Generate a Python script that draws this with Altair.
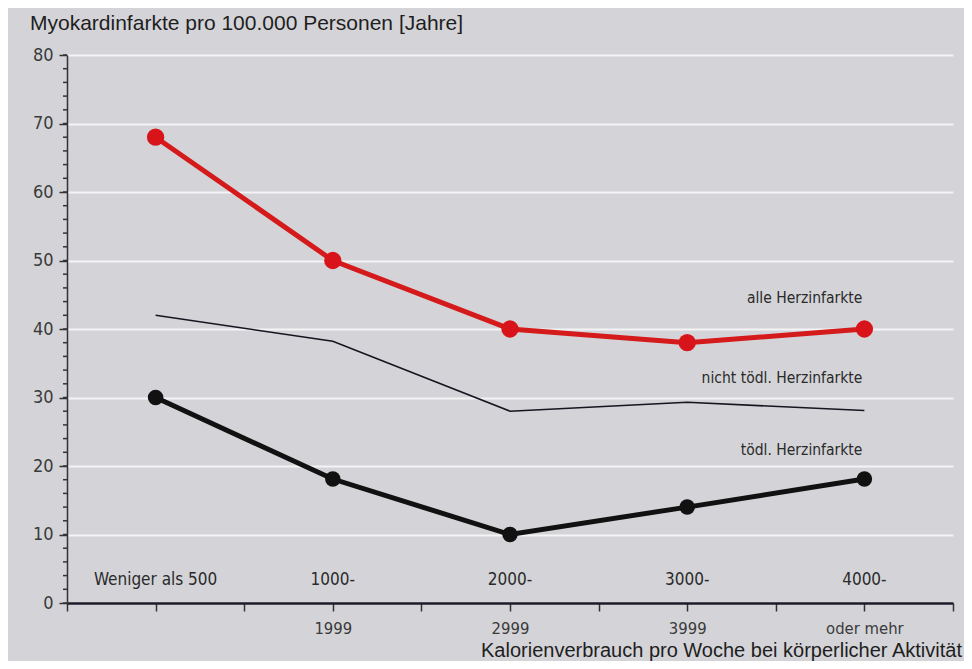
import altair as alt
import pandas as pd

categories = [0, 1, 2, 3, 4]
top_labels = ["Weniger als 500", "1000-", "2000-", "3000-", "4000-"]
bottom_labels = ["", "1999", "2999", "3999", "oder mehr"]

alle = [68, 50, 40, 38, 40]
nicht_toedl = [42, 38.2, 28, 29.3, 28.1]
toedl = [30, 18.1, 10, 14, 18.1]

series_names = ["alle Herzinfarkte", "nicht tödl. Herzinfarkte", "tödl. Herzinfarkte"]
series_label_y = [44.5, 32.8, 22.3]

y_major = list(range(0, 81, 10))
y_minor = list(range(0, 81, 2))

y_title = "Myokardinfarkte pro 100.000 Personen [Jahre]"
x_title = "Kalorienverbrauch pro Woche bei körperlicher Aktivität"

FONT = "'Liberation Sans Narrow', 'DejaVu Sans Condensed', 'Roboto Condensed', Roboto, sans-serif"
TFONT = "'Liberation Sans', Arial, sans-serif"
BG = "#d4d4d8"
W, H = 886, 548

df_alle = pd.DataFrame({"x": categories, "y": alle})
df_nicht = pd.DataFrame({"x": categories, "y": nicht_toedl})
df_toedl = pd.DataFrame({"x": categories, "y": toedl})
df_top = pd.DataFrame({"x": categories, "label": top_labels, "y": [3.4] * 5})
df_series = pd.DataFrame({"x": [4.0] * 3, "y": series_label_y, "label": series_names})
df_minor = pd.DataFrame({"y": y_minor})

xscale = alt.Scale(domain=[-0.5, 4.5], nice=False, zero=False)
yscale = alt.Scale(domain=[0, 80], nice=False)

bottom_expr = ("datum.value == 1 ? '" + bottom_labels[1] + "' : datum.value == 2 ? '" + bottom_labels[2]
               + "' : datum.value == 3 ? '" + bottom_labels[3] + "' : datum.value == 4 ? '"
               + bottom_labels[4] + "' : ''")

x_tick_values = [i * 0.5 for i in range(-1, 10)]


def X():
    return alt.X("x:Q", scale=xscale)


def Y():
    return alt.Y("y:Q", scale=yscale)


axes_layer = alt.Chart(df_alle).mark_point(opacity=0).encode(
    x=alt.X("x:Q", scale=xscale, axis=alt.Axis(
        values=x_tick_values, labelExpr=bottom_expr, title=None, grid=False,
        domainColor="#1a1a2a", domainWidth=2.5, tickColor="#333333", tickWidth=1.5,
        tickSize=8, labelFont=FONT, labelFontSize=16.5, labelColor="#3a3a3a",
        labelPadding=9, labelFlush=False, labelOverlap=False)),
    y=alt.Y("y:Q", scale=yscale, axis=alt.Axis(
        values=y_major, title=None, grid=True, gridColor="#f4f4f6",
        gridWidth=2, domainColor="#333333", domainWidth=1.5, tickColor="#333333",
        tickWidth=1.5, tickSize=8, labelFont=FONT, labelFontSize=18,
        labelOverlap=False, labelColor="#3a3a3a", labelPadding=6)),
)

minor_ticks = alt.Chart(df_minor).mark_rule(color="#333333", strokeWidth=1.5).encode(
    y=Y(), x=alt.value(-4), x2=alt.value(0))

red_line = alt.Chart(df_alle).mark_line(color="#d41a1a", strokeWidth=5).encode(x=X(), y=Y())
red_pts = alt.Chart(df_alle).mark_circle(color="#d8141a", size=300, opacity=1).encode(x=X(), y=Y())

thin_line = alt.Chart(df_nicht).mark_line(color="#151520", strokeWidth=1.6).encode(x=X(), y=Y())

black_line = alt.Chart(df_toedl).mark_line(color="#111111", strokeWidth=5).encode(x=X(), y=Y())
black_pts = alt.Chart(df_toedl).mark_circle(color="#111111", size=240, opacity=1).encode(x=X(), y=Y())

top_text = alt.Chart(df_top).mark_text(font=FONT, fontSize=17, color="#2a2a2a",
                                       baseline="middle").encode(x=X(), y=Y(), text="label:N")

series_text = alt.Chart(df_series).mark_text(font=FONT, fontSize=15.5, color="#2a2a2a",
                                              align="right", baseline="middle", dx=-2).encode(
    x=X(), y=Y(), text="label:N")

title_df = pd.DataFrame({"t": [y_title]})
y_title_text = alt.Chart(title_df).mark_text(font=TFONT, fontSize=21, color="#1e1e1e",
                                             align="left", baseline="alphabetic").encode(
    x=alt.value(-37), y=alt.value(-25), text="t:N")

xtitle_df = pd.DataFrame({"t": [x_title]})
x_title_text = alt.Chart(xtitle_df).mark_text(font=TFONT, fontSize=20, color="#1e1e1e",
                                              align="right", baseline="alphabetic").encode(
    x=alt.value(W + 9), y=alt.value(H + 54), text="t:N")

chart = alt.layer(
    axes_layer, minor_ticks, thin_line, red_line, red_pts, black_line, black_pts,
    top_text, series_text, y_title_text, x_title_text
).properties(
    width=W, height=H,
    autosize=alt.AutoSizeParams(type="none"),
    padding={"left": 59, "top": 47, "right": 11, "bottom": 58},
    background=BG,
).configure_view(stroke=None, fill=BG)

chart.save("out.html", embed_options={"renderer": "svg", "actions": False})
